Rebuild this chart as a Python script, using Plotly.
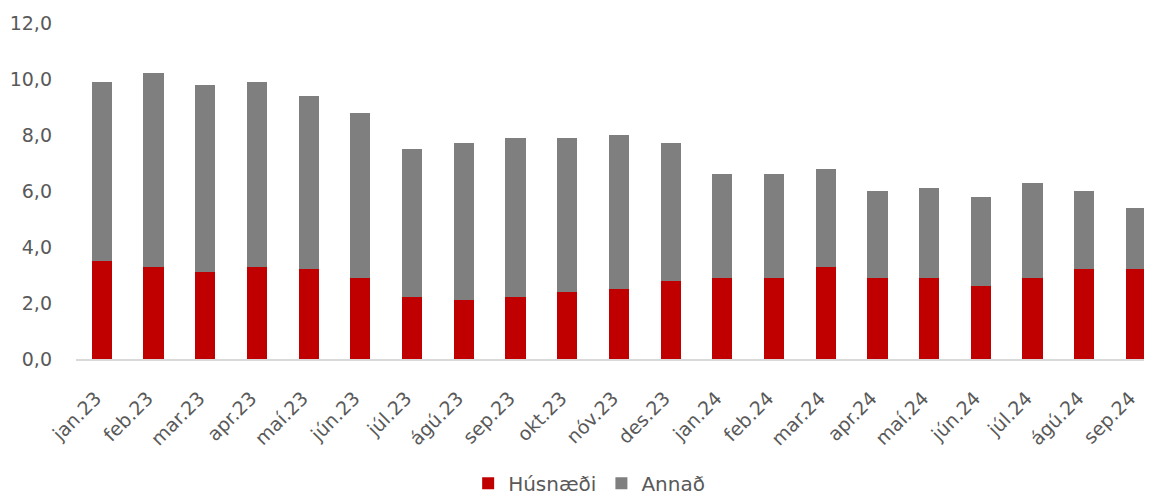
import plotly.graph_objects as go

months = ["jan.23", "feb.23", "mar.23", "apr.23", "maí.23", "jún.23", "júl.23", "ágú.23",
          "sep.23", "okt.23", "nóv.23", "des.23", "jan.24", "feb.24", "mar.24", "apr.24",
          "maí.24", "jún.24", "júl.24", "ágú.24", "sep.24"]
husnaedi = [3.5, 3.3, 3.1, 3.3, 3.2, 2.9, 2.2, 2.1, 2.2, 2.4, 2.5, 2.8,
            2.9, 2.9, 3.3, 2.9, 2.9, 2.6, 2.9, 3.2, 3.2]
total = [9.9, 10.2, 9.8, 9.9, 9.4, 8.8, 7.5, 7.7, 7.9, 7.9, 8.0, 7.7,
         6.6, 6.6, 6.8, 6.0, 6.1, 5.8, 6.3, 6.0, 5.4]
annad = [round(t - h, 2) for t, h in zip(total, husnaedi)]

font_family = "DejaVu Sans, Liberation Sans, Arial, sans-serif"
fig = go.Figure()
fig.add_trace(go.Bar(x=months, y=husnaedi, name="Húsnæði", marker_color="#C00000",
                     marker_line_width=0))
fig.add_trace(go.Bar(x=months, y=annad, name="Annað", marker_color="#7F7F7F",
                     marker_line_width=0))

fig.update_layout(
    barmode="stack",
    bargap=0.61,
    width=1144, height=487,
    margin=dict(l=68, r=0, t=15, b=136, autoexpand=False),
    plot_bgcolor="white", paper_bgcolor="white",
    separators=",.",
    font=dict(family=font_family, color="#595959", size=19),
    showlegend=True,
    legend=dict(orientation="h", xref="container", yref="container",
                x=0.508, xanchor="center", y=0.024, yanchor="middle",
                font=dict(size=20, color="#595959"), traceorder="normal",
                itemwidth=30),
)
fig.update_xaxes(
    type="category",
    range=[-0.5, 20.31],
    tickangle=-45,
    automargin=False,
    showline=True, linecolor="#D9D9D9", linewidth=1.5,
    showgrid=False, ticks="",
    ticklabelshift=-6, ticklabelstandoff=19,
    tickfont=dict(size=19, color="#595959"),
)
fig.update_yaxes(
    range=[0, 12], dtick=2, tickformat=".1f",
    automargin=False,
    showgrid=False, zeroline=False, showline=False,
    ticks="", ticklabelstandoff=23,
    tickfont=dict(size=19, color="#595959"),
)
fig.write_html("out.html")
